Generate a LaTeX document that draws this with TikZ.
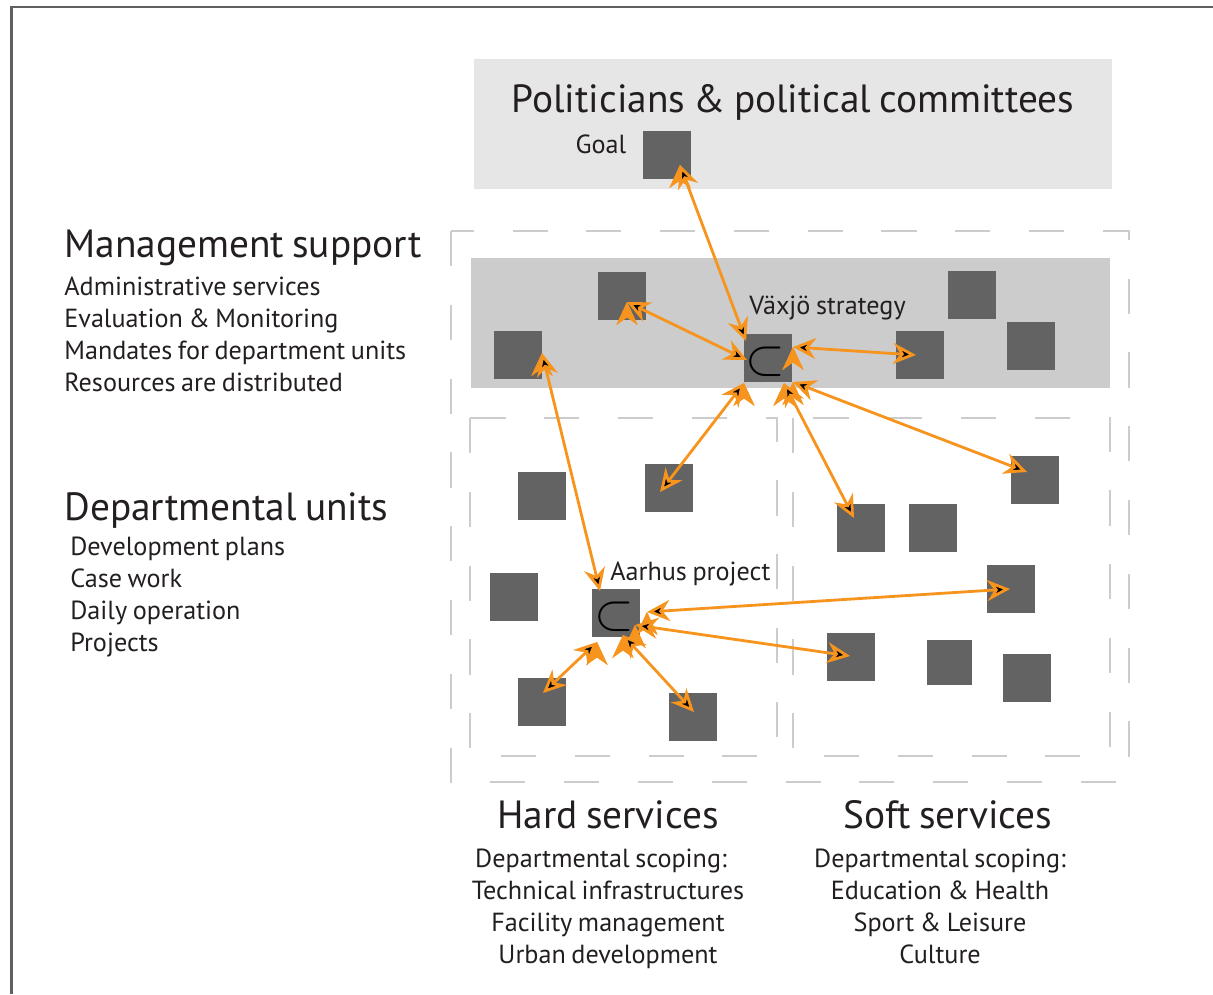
\documentclass[tikz,border=0pt]{standalone}
\usepackage{fontspec}
\setmainfont[WordSpace=0.8]{PT Sans}
\usetikzlibrary{arrows.meta}
\definecolor{sqgray}{HTML}{636363}
\definecolor{topgray}{HTML}{E6E6E6}
\definecolor{bandgray}{HTML}{CCCCCC}
\definecolor{dashgray}{HTML}{CCCCCC}
\definecolor{linkorange}{HTML}{F7941D}
\definecolor{txt}{HTML}{231F20}

\begin{document}
\begin{tikzpicture}[x=0.02cm,y=-0.02cm,
            sq/.style={fill=sqgray,inner sep=0pt,minimum size=0.96cm},
            big/.style={font=\fontsize{22.4}{26}\selectfont,text=txt,inner sep=0pt,anchor=base},
            small/.style={font=\fontsize{14.9}{18}\selectfont,text=txt,inner sep=0pt,anchor=base},
            csym/.style={text=black,inner sep=0pt},
            link/.style={draw=linkorange,line width=1.6pt,{Stealth[length=13pt,width=12pt]}-{Stealth[length=13pt,width=12pt]}},
            dashbox/.style={draw=dashgray,line width=1.1pt,dash pattern=on 20pt off 22pt}]
            \useasboundingbox (0,0) rectangle (1213,994);
            \draw[gray!75!black,line width=1.7pt] (11.5,994) |- (1213,7);

            \fill[topgray] (474,59) rectangle (1112,189);
            \fill[bandgray] (471,258) rectangle (1110,388);
            \draw[dashbox] (451,231) rectangle (1129,782);
            \draw[dashbox] (470,418) rectangle (777,756);
            \draw[dashbox] (793,418) rectangle (1110,756);

            \node[big] (pol) at (793,112) {Politicians \& political committees};
            \node[small] (goallbl) at (601,153) {Goal};
            \node[sq] (goal) at (667,155) {};

            \node[big,anchor=base west] (mgmt) at (64,257) {Management support};
            \node[small,anchor=base west] (mgmt1) at (64,295) {Administrative services};
            \node[small,anchor=base west] (mgmt2) at (64,327) {Evaluation \& Monitoring};
            \node[small,anchor=base west] (mgmt3) at (64,359) {Mandates for department units};
            \node[small,anchor=base west] (mgmt4) at (64,391) {Resources are distributed};

            \node[big,anchor=base west] (dep) at (64,520) {Departmental units};
            \node[small,anchor=base west] (dep1) at (70,555) {Development plans};
            \node[small,anchor=base west] (dep2) at (70,587) {Case work};
            \node[small,anchor=base west] (dep3) at (70,619) {Daily operation};
            \node[small,anchor=base west] (dep4) at (70,651) {Projects};

            \node[sq] (m1) at (622,296) {};
            \node[sq] (m2) at (518,355) {};
            \node[sq] (vs) at (768,358) {};
            \node[csym] (vsc) at (765,362) {\scalebox{2.9}{$\subset$}};
            \node[small,anchor=base west] (vslbl) at (749,314) {Växjö strategy};
            \node[sq] (m3) at (920,355) {};
            \node[sq] (m4) at (972,295) {};
            \node[sq] (m5) at (1031,346) {};

            \node[sq] (h1) at (542,496) {};
            \node[sq] (h2) at (669,488) {};
            \node[sq] (h3) at (514,597) {};
            \node[sq] (ah) at (616,613) {};
            \node[csym] (ahc) at (614,617) {\scalebox{2.9}{$\subset$}};
            \node[small,anchor=base west] (ahlbl) at (610,580) {Aarhus project};
            \node[sq] (h4) at (542,702) {};
            \node[sq] (h5) at (693,717) {};

            \node[sq] (s1) at (1035,480) {};
            \node[sq] (s2) at (861,528) {};
            \node[sq] (s3) at (933,528) {};
            \node[sq] (s4) at (1011,589) {};
            \node[sq] (s5) at (851,657) {};
            \node[sq,minimum size=0.9cm] (s6) at (949,662) {};
            \node[sq] (s7) at (1027,678) {};

            \node[big] (hard) at (608,828) {Hard services};
            \node[small] (hard1) at (601,867) {Departmental scoping:};
            \node[small] (hard2) at (608,899) {Technical infrastructures};
            \node[small] (hard3) at (608,931) {Facility management};
            \node[small] (hard4) at (608,963) {Urban development};

            \node[big] (soft) at (948,828) {Soft services};
            \node[small] (soft1) at (940,867) {Departmental scoping:};
            \node[small] (soft2) at (940,899) {Education \& Health};
            \node[small] (soft3) at (940,931) {Sport \& Leisure};
            \node[small] (soft4) at (940,963) {Culture};

            \path [link] ([shift={(13,10)}]goal.center) edge ([shift={(-22,-17)}]vs.center);
            \path [link] ([shift={(5,6)}]m1.center) edge ([shift={(-21,2)}]vs.center);
            \path [link] ([shift={(25,-11)}]vs.center) edge ([shift={(-4,0)}]m3.center);
            \path [link] ([shift={(25,24)}]vs.center) edge ([shift={(-8,-8)}]s1.center);
            \path [link] ([shift={(16,25)}]vs.center) edge ([shift={(-7,-10)}]s2.center);
            \path [link] ([shift={(-24,25)}]vs.center) edge ([shift={(-9,4)}]h2.center);
            \path [link] ([shift={(24,-2)}]m2.center) edge ([shift={(-16,-22)}]ah.center);
            \path [link] ([shift={(31,-1)}]ah.center) edge ([shift={(-1,0)}]s4.center);
            \path [link] ([shift={(19,12)}]ah.center) edge ([shift={(-1,-1)}]s5.center);
            \path [link] ([shift={(-19,29)}]ah.center) edge ([shift={(1,-9)}]h4.center);
            \path [link] ([shift={(7,22)}]ah.center) edge ([shift={(1,-5)}]h5.center);
        \end{tikzpicture}
\end{document}
